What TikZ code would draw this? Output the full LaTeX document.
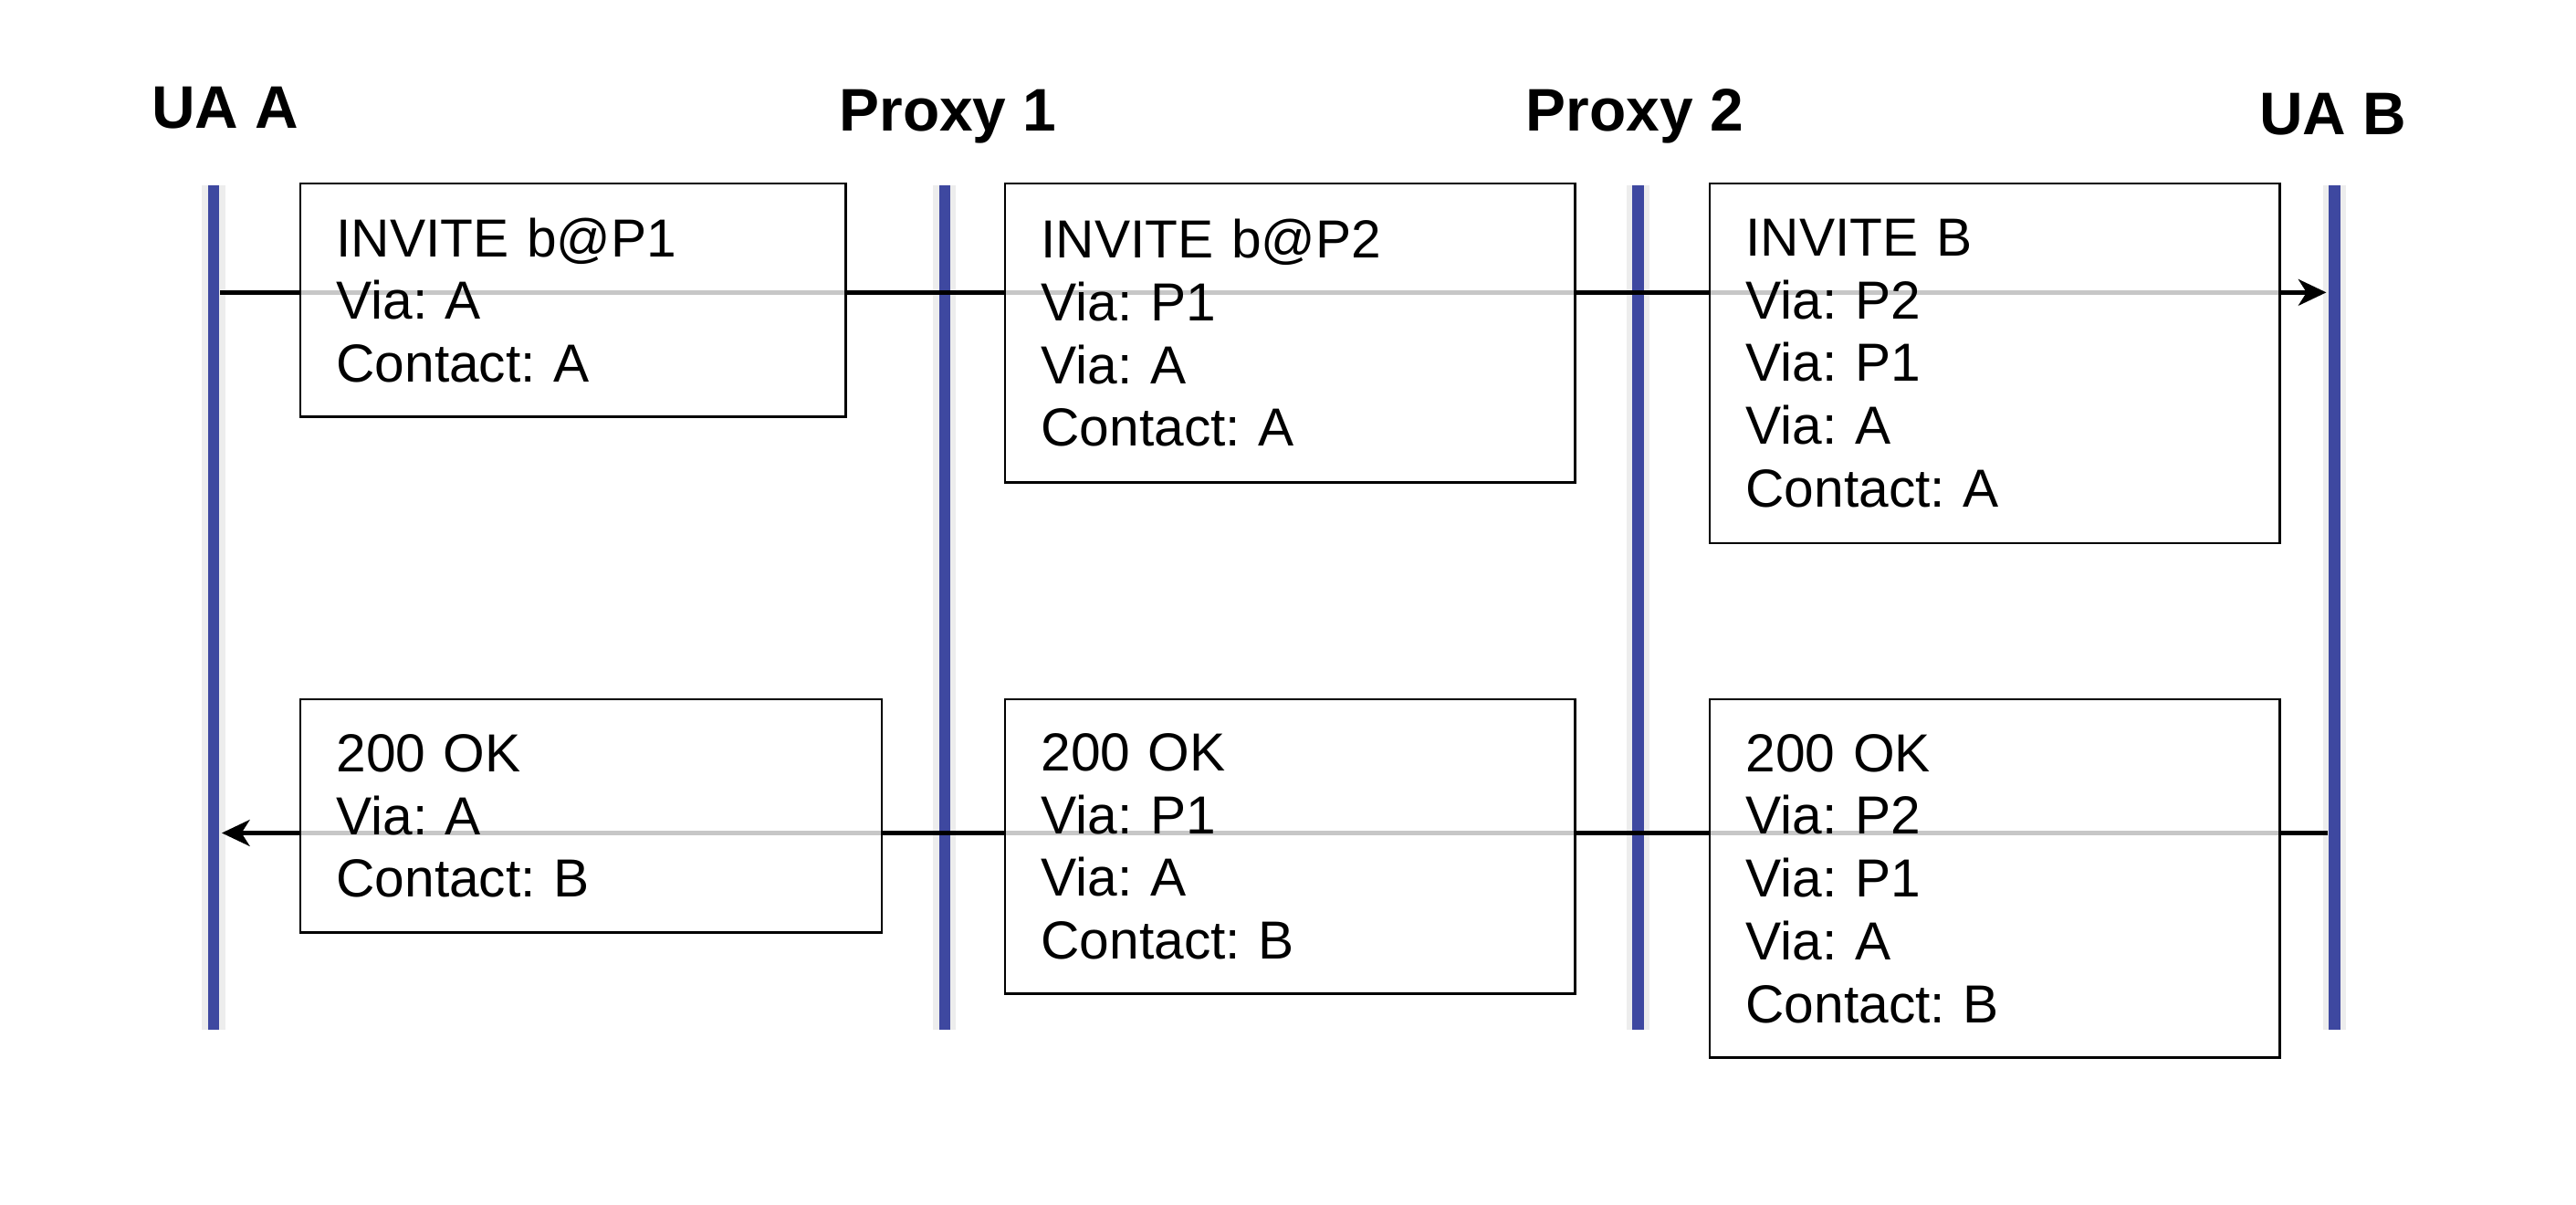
\documentclass[tikz,border=0pt]{standalone}
\usepackage{fontspec}
\setmainfont{Liberation Sans}
\usetikzlibrary{arrows.meta}
\definecolor{lifeblue}{RGB}{62,72,160}
\frenchspacing
\begin{document}
\begin{tikzpicture}[x=0.5pt,y=-0.5pt,
  lifeline/.style={line width=3.5pt, draw=lifeblue},
  lifeshadow/.style={line width=7pt, draw=black!7},
  head/.style={font=\fontsize{18.3}{22}\selectfont\bfseries, inner sep=0pt, anchor=base},
  msgbox/.style={draw=black, line width=0.7pt, fill=white, fill opacity=0.78, text opacity=1,
    align=left, inner xsep=11pt, inner ysep=0pt, anchor=north west,
    font=\fontsize{16.3}{19.1}\selectfont},
  msg/.style={line width=1.3pt, draw=black, -{Stealth[length=8.5pt,width=8pt,inset=2.5pt]}}]

\useasboundingbox (0,0) rectangle (1568,733);

% lifeline end points
\coordinate (aTop) at (130,113); \coordinate (aBot) at (130,627);
\coordinate (pTop) at (575,113); \coordinate (pBot) at (575,627);
\coordinate (qTop) at (997,113); \coordinate (qBot) at (997,627);
\coordinate (bTop) at (1421,113); \coordinate (bBot) at (1421,627);

% headers
\node[head] (hA) at (137,78) {UA A};
\node[head] (hP1) at (577,80) {Proxy 1};
\node[head] (hP2) at (995,80) {Proxy 2};
\node[head] (hB) at (1420,82) {UA B};

% lifelines
\foreach \t/\b in {aTop/aBot, pTop/pBot, qTop/qBot, bTop/bBot}{
  \draw[lifeshadow] (\t) -- (\b);
  \draw[lifeline] (\t) -- (\b);
}

% message arrows
\coordinate (aIn) at (134,178);  \coordinate (bIn) at (1416,178);
\coordinate (bOut) at (1417,507); \coordinate (aOut) at (135,507);
\draw[msg] (aIn) -- (bIn);
\draw[msg] (bOut) -- (aOut);

% message boxes
\node[msgbox, text width=144pt, minimum height=71pt] (m1) at (182,111)
  {INVITE b@P1\\Via: A\\Contact: A};
\node[msgbox, text width=151.5pt, minimum height=91pt] (m2) at (611,111)
  {INVITE b@P2\\Via: P1\\Via: A\\Contact: A};
\node[msgbox, text width=151.5pt, minimum height=109.5pt] (m3) at (1040,111)
  {INVITE B\\Via: P2\\Via: P1\\Via: A\\Contact: A};

\node[msgbox, text width=155pt, minimum height=71pt] (r1) at (182,425)
  {200 OK\\Via: A\\Contact: B};
\node[msgbox, text width=151.5pt, minimum height=89.5pt] (r2) at (611,425)
  {200 OK\\Via: P1\\Via: A\\Contact: B};
\node[msgbox, text width=151.5pt, minimum height=109pt] (r3) at (1040,425)
  {200 OK\\Via: P2\\Via: P1\\Via: A\\Contact: B};
\end{tikzpicture}
\end{document}
